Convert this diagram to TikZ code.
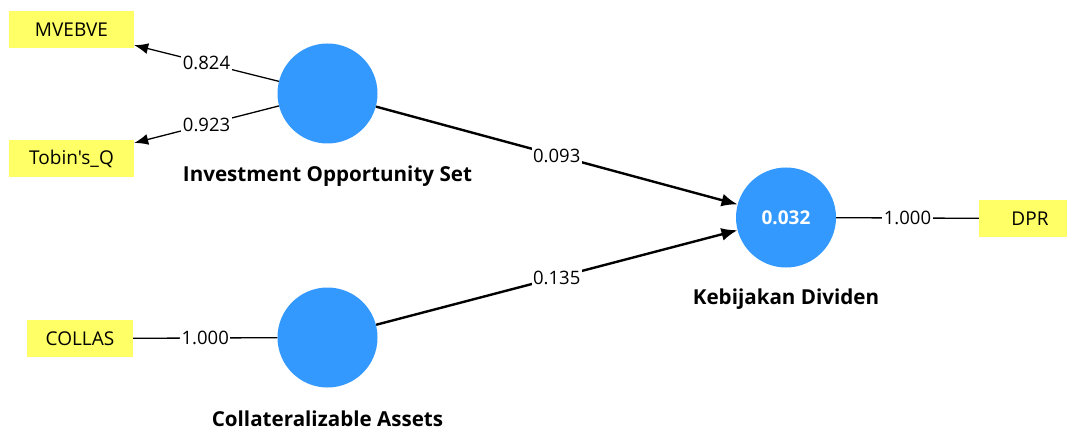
\documentclass[tikz,border=0pt]{standalone}
\usepackage{fontspec}
\setmainfont{Open Sans}[Ligatures=TeXOff]
\usetikzlibrary{arrows.meta}
\definecolor{lvblue}{RGB}{51,153,255}
\definecolor{mvyellow}{RGB}{255,255,102}
\tikzset{
  x=1pt,y=-1pt,
  lv/.style={circle,fill=lvblue,minimum size=100pt,inner sep=0pt,text=white,font=\fontsize{19}{22}\selectfont\bfseries},
  mv/.style={rectangle,fill=mvyellow,minimum height=37pt,inner sep=0pt,font=\fontsize{19}{22}\selectfont},
  lvname/.style={font=\fontsize{20.6}{24}\selectfont\bfseries},
  coef/.style={fill=white,inner sep=1.5pt,font=\fontsize{18.5}{22}\selectfont},
  load/.style={line width=1.3pt},
  path/.style={line width=2.4pt},
  tipL/.style={-{Latex[length=14pt,width=11pt]}},
}
\begin{document}
\begin{tikzpicture}
\clip (0,0) rectangle (1067,430);
\fill[white] (0,0) rectangle (1067,430);
% latent variables
\node[lv] (ios) at (327.5,93.5) {};
\node[lv] (kd) at (786,217.5) {0.032};
\node[lv] (ca) at (327.5,337.5) {};
\node[lvname] (iosn) at (327.5,176) {Investment Opportunity Set};
\node[lvname] (kdn) at (786,299) {Kebijakan Dividen};
\node[lvname] (can) at (327.5,419) {Collateralizable Assets};
% indicators
\node[mv,minimum width=125pt] (mve) at (71.5,29.5) {MVEBVE};
\node[mv,minimum width=125pt] (tq) at (71.5,159) {Tobin's\_Q};
\node[mv,minimum width=106pt] (col) at (80,338.5) {COLLAS};
\node[mv,minimum width=102pt] (dpr) at (1030,218.5) {DPR};
% connectors
\draw[load,tipL] (ios) -- node[coef] {0.824} (mve);
\draw[load,tipL] (ios) -- node[coef] {0.923} (tq);
\draw[load] (col) -- node[coef] {1.000} (ca);
\draw[load] (kd) -- node[coef] {1.000} (dpr);
\draw[path,-{Latex[length=16pt,width=13pt]}] (ios) -- node[coef] {0.093} (kd);
\draw[path,-{Latex[length=16pt,width=13pt]}] (ca) -- node[coef] {0.135} (kd);
\end{tikzpicture}
\end{document}
